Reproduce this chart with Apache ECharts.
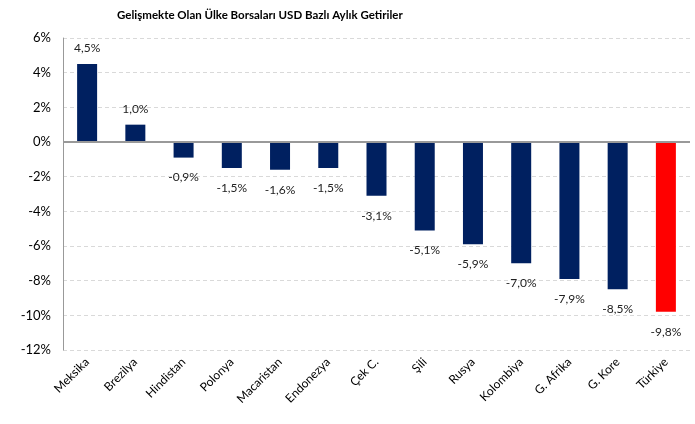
<!DOCTYPE html>
<html>
<head>
<meta charset="utf-8">
<script src="https://cdn.jsdelivr.net/npm/echarts@6/dist/echarts.min.js"></script>
<style>
  html, body { margin: 0; padding: 0; background: #fff; }
  #chart { width: 695px; height: 424px; }
</style>
</head>
<body>
<div id="chart"></div>
<script>
// ulkeler ve aylik getiriler (%)
let countries = ['Meksika', 'Brezilya', 'Hindistan', 'Polonya', 'Macaristan', 'Endonezya',
    'Çek C.', 'Şili', 'Rusya', 'Kolombiya', 'G. Afrika', 'G. Kore', 'Türkiye'];
let returns = [4.5, 1.0, -0.9, -1.5, -1.6, -1.5, -3.1, -5.1, -5.9, -7.0, -7.9, -8.5, -9.8];
let yTicks = [-12, -10, -8, -6, -4, -2, 0, 2, 4, 6];

let navy = '#002060';
let red = '#FF0000';
let font = 'Lato';

let seriesData = [];
countries.forEach(function (c, i) {
    let pos = returns[i] >= 0;
    seriesData.push({
        value: returns[i],
        itemStyle: {color: c === 'Türkiye' ? red : navy},
        label: {position: pos ? 'top' : 'bottom', distance: pos ? 10 : 14}
    });
});

let chart = echarts.init(document.getElementById('chart'));
let option = {
    animation: false,
    backgroundColor: '#fff',
    title: {
        text: 'Gelişmekte Olan Ülke Borsaları USD Bazlı Aylık Getiriler',
        left: 112,
        top: 4,
        textStyle: {
            fontFamily: font,
            fontSize: 11.5,
            fontWeight: 'bold',
            color: '#000'
        }
    },
    grid: {
        left: 63,
        right: 5,
        top: 38,
        bottom: 74
    },
    xAxis: {
        type: 'category',
        data: countries,
        axisLine: {show: false},
        axisTick: {show: false},
        axisLabel: {
            interval: 0,
            rotate: 45,
            margin: 10,
            fontFamily: font,
            fontSize: 12,
            color: '#000'
        }
    },
    yAxis: {
        type: 'value',
        min: yTicks[0],
        max: yTicks[yTicks.length - 1],
        interval: 2,
        axisLine: {show: true, lineStyle: {color: '#999', width: 1}},
        axisTick: {show: false},
        axisLabel: {
            margin: 12,
            fontFamily: font,
            fontSize: 13,
            color: '#000',
            formatter: function (v) { return v + '%'; }
        },
        splitLine: {
            show: true,
            lineStyle: {color: '#d9d9d9', type: [4, 3], width: 1}
        }
    },
    series: [{
        type: 'bar',
        data: seriesData,
        barWidth: 20,
        label: {
            show: true,
            fontFamily: font,
            fontSize: 12,
            color: '#222',
            formatter: function (p) {
                return p.value.toFixed(1).replace('.', ',') + '%';
            }
        },
        markLine: {
            silent: true,
            symbol: 'none',
            label: {show: false},
            lineStyle: {color: '#999', type: 'solid', width: 2},
            data: [{yAxis: 0}]
        }
    }]
};
chart.setOption(option);
</script>
</body>
</html>
